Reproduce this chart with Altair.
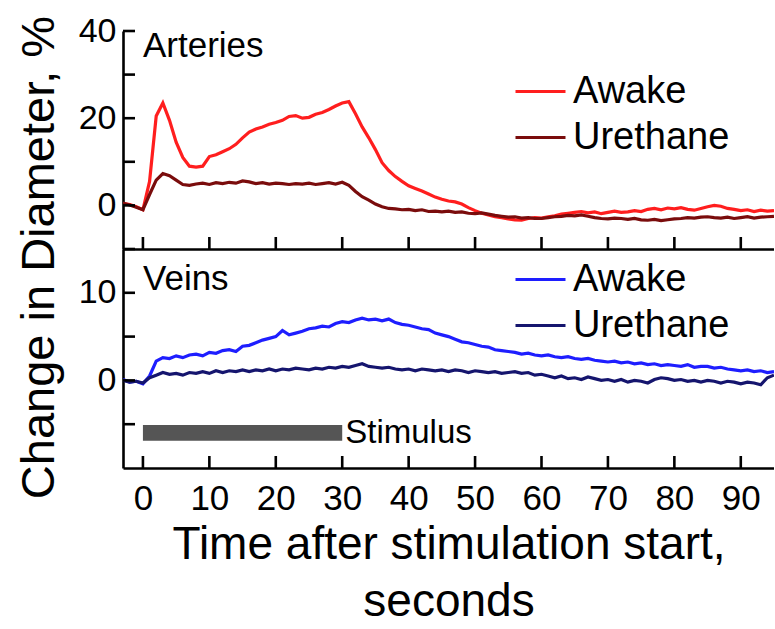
import altair as alt
import pandas as pd

FONT = "Liberation Sans"

# ---------------- data ----------------
t = list(range(-3, 96))

art_awake = [0.5, 0.2, -0.3,
             -1.0, 5.5, 20.5, 23.5, 19.5, 14.5, 11.0, 9.0, 8.8, 9.0,
             11.2, 11.6, 12.3, 13.0, 14.0, 15.5, 16.8, 17.5, 18.0, 18.6,
             19.0, 19.5, 20.4, 20.6, 20.0, 20.2, 20.9, 21.3, 22.0, 22.8,
             23.5, 23.8, 21.0, 18.0, 15.5, 12.8, 9.8, 8.0, 6.6, 5.5,
             4.5, 3.9, 3.3, 2.6, 1.9, 1.4, 1.0, 0.8, 0.3, -0.5,
             -1.2, -1.8, -2.2, -2.6, -2.8, -3.1, -3.3, -3.4, -3.0, -2.8,
             -2.9, -2.6, -2.4, -2.0, -1.8, -1.6, -1.4, -1.7, -1.5, -1.9,
             -1.6, -1.3, -1.6, -1.5, -1.2, -1.4, -0.9, -0.7, -1.0, -0.6,
             -0.8, -0.5, -0.9, -1.1, -0.7, -0.3, 0.0, -0.2, -0.7, -0.9,
             -1.2, -1.0, -1.4, -1.1, -1.3, -1.2]

art_ureth = [0.5, 0.1, -0.4,
             -1.0, 2.5, 5.8, 7.3, 6.8, 5.8, 4.8, 4.6, 4.9, 5.1,
             4.8, 5.2, 5.0, 5.3, 5.1, 5.6, 5.4, 5.0, 5.2, 4.9,
             5.1, 5.0, 4.8, 5.0, 4.9, 5.1, 4.8, 5.0, 5.2, 4.9,
             5.3, 4.6, 3.2, 2.0, 1.2, 0.3, -0.3, -0.7, -0.8, -1.0,
             -0.9, -1.2, -1.0, -1.4, -1.3, -1.5, -1.3, -1.6, -1.5, -1.8,
             -1.9, -1.7, -2.0, -2.3, -2.5, -2.7, -2.6, -2.9, -2.8, -3.0,
             -3.0, -2.8, -2.6, -2.5, -2.3, -2.4, -2.2, -2.5, -2.8, -3.0,
             -3.1, -2.9, -3.0, -3.2, -3.0, -3.3, -3.4, -3.2, -3.5, -3.3,
             -3.1, -3.0, -2.8, -2.9, -2.7, -2.6, -2.8, -2.9, -2.7, -3.0,
             -2.8, -2.6, -2.9, -2.7, -2.6, -2.5]

vein_awake = [0.1, -0.2, -0.1,
              -0.4, 0.5, 2.2, 2.6, 2.5, 2.8, 2.6, 2.9, 3.0, 2.8,
              3.2, 3.1, 3.4, 3.5, 3.3, 3.9, 4.0, 4.3, 4.6, 4.8,
              5.0, 5.7, 5.2, 5.4, 5.6, 5.9, 6.0, 6.2, 6.1, 6.5,
              6.7, 6.6, 6.9, 7.1, 6.9, 7.0, 6.8, 7.0, 6.6, 6.4,
              6.3, 6.1, 5.9, 5.8, 5.4, 5.2, 5.0, 4.7, 4.4, 4.3,
              4.1, 3.9, 3.8, 3.5, 3.4, 3.3, 3.2, 3.0, 3.1, 2.9,
              2.8, 2.9, 2.7, 2.6, 2.7, 2.5, 2.4, 2.5, 2.3, 2.2,
              2.1, 2.2, 2.0, 2.1, 1.9, 2.0, 1.8, 1.9, 1.7, 1.8,
              1.7, 1.6, 1.8, 1.5, 1.6, 1.6, 1.4, 1.5, 1.3, 1.2,
              1.1, 1.2, 1.0, 1.1, 0.9, 1.0]

vein_ureth = [0.0, -0.2, -0.1,
              -0.3, 0.3, 0.6, 0.9, 0.7, 0.8, 0.6, 0.9, 0.8, 1.0,
              0.8, 1.1, 0.9, 1.1, 1.0, 1.2, 1.0, 1.2, 1.1, 1.3,
              1.1, 1.3, 1.2, 1.4, 1.3, 1.2, 1.4, 1.3, 1.5, 1.4,
              1.6, 1.5, 1.7, 1.9, 1.6, 1.5, 1.4, 1.5, 1.3, 1.2,
              1.3, 1.1, 1.3, 1.2, 1.1, 1.2, 1.0, 1.2, 1.1, 0.9,
              1.1, 1.0, 0.9, 1.0, 0.8, 0.9, 1.0, 0.8, 0.9, 0.6,
              0.7, 0.5, 0.3, 0.5, 0.2, 0.3, 0.1, 0.4, 0.2, 0.0,
              0.1, -0.1, 0.1, -0.2, 0.0, -0.1, -0.3, 0.1, 0.3, 0.2,
              0.0, 0.1, -0.1, 0.0, -0.2, 0.0, -0.1, -0.3, -0.1, -0.2,
              -0.4, -0.2, -0.3, -0.5, 0.3, 0.6]

series_names = ["Awake", "Urethane"]
art_colors = ["#ff1e1e", "#7a0c0c"]
vein_colors = ["#1e1eff", "#15156e"]

x_ticks = [0, 10, 20, 30, 40, 50, 60, 70, 80, 90]
art_labels = [0, 20, 40]
art_ticks = [-10, 0, 10, 20, 30, 40]
vein_labels = [0, 10]
vein_ticks = [-5, 0, 5, 10]

stim_start, stim_end, stim_lo, stim_hi = [0], [30], [-6.9], [-5.1]


def frame(a, b):
    rows = [{"t": ti, "v": vi, "s": series_names[0]} for ti, vi in zip(t, a)]
    rows += [{"t": ti, "v": vi, "s": series_names[1]} for ti, vi in zip(t, b)]
    return pd.DataFrame(rows)


df_art = frame(art_awake, art_ureth)
df_vein = frame(vein_awake, vein_ureth)

W = 651
H1 = 218
H2 = 219
TICK_LEN = 12
xs = alt.Scale(domain=[-3, 95], nice=False, zero=False)
ys_art = alt.Scale(domain=[-10, 40], nice=False, zero=False)
ys_vein = alt.Scale(domain=[-10, 15], nice=False, zero=False)


def panel(df, ys, colors, y_labels, y_ticks, H, name, name_y, legend_y, row_pad,
          bottom=False, y_title=False):
    x_axis = alt.Axis(orient="bottom", domain=True, domainColor="black", domainWidth=2.6,
                      ticks=False, grid=False,
                      labels=bottom, values=x_ticks, labelFontSize=35, labelPadding=13,
                      labelFont=FONT, labelColor="black",
                      title=(["Time after stimulation start,", "seconds"] if bottom else None),
                      titleFontSize=46, titleFont=FONT, titleFontWeight="normal",
                      titleColor="black", titleLineHeight=57, titlePadding=6)
    y_kw = dict(orient="left", domain=True, domainColor="black", domainWidth=2.6,
                ticks=False, grid=False, values=y_labels, labelFontSize=34,
                labelPadding=7, labelFont=FONT, labelColor="black")
    if y_title:
        y_kw.update(title="Change in Diameter, %", titleFontSize=47, titleFont=FONT,
                    titleFontWeight="normal", titleColor="black", titleX=-70,
                    titleY=226, titleBaseline="alphabetic", titleAngle=270)
    else:
        y_kw.update(title=None)
    y_axis = alt.Axis(**y_kw)

    legend = alt.Legend(orient="none", legendX=391, legendY=legend_y, title=None,
                        symbolType="stroke", symbolSize=2500, symbolStrokeWidth=3,
                        labelFontSize=38, labelFont=FONT, labelColor="black",
                        labelOffset=6, rowPadding=row_pad, padding=0)

    lines = alt.Chart(df).mark_line(strokeWidth=3.2, clip=True).encode(
        x=alt.X("t:Q", scale=xs, axis=x_axis),
        y=alt.Y("v:Q", scale=ys, axis=y_axis),
        color=alt.Color("s:N", scale=alt.Scale(domain=series_names, range=colors),
                        legend=legend),
    )

    # inward-pointing tick marks
    xt = alt.Chart(pd.DataFrame({"tx": x_ticks})).mark_rule(
        color="black", strokeWidth=2.6).encode(
        x=alt.X("tx:Q", scale=xs, axis=None),
        y=alt.value(H), y2=alt.value(H - TICK_LEN))
    yt = alt.Chart(pd.DataFrame({"ty": y_ticks})).mark_rule(
        color="black", strokeWidth=2.6).encode(
        y=alt.Y("ty:Q", scale=ys, axis=None),
        x=alt.value(0), x2=alt.value(TICK_LEN))

    label = alt.Chart(pd.DataFrame({"label": [name]})).mark_text(
        align="left", baseline="middle", fontSize=35, font=FONT, color="black"
    ).encode(text="label:N", x=alt.value(20), y=alt.value(name_y))

    layers = [lines, xt, yt, label]
    if bottom:
        stim = pd.DataFrame({"x0": stim_start, "x1": stim_end, "y0": stim_lo, "y1": stim_hi,
                             "lab": ["Stimulus"], "ym": [(stim_lo[0] + stim_hi[0]) / 2]})
        bar = alt.Chart(stim).mark_rect(color="#555555").encode(
            x=alt.X("x0:Q", scale=xs, axis=None), x2="x1:Q",
            y=alt.Y("y0:Q", scale=ys, axis=None), y2="y1:Q")
        txt = alt.Chart(stim).mark_text(align="left", baseline="middle", dx=3,
                                        fontSize=33, font=FONT, color="black").encode(
            x=alt.X("x1:Q", scale=xs, axis=None), y=alt.Y("ym:Q", scale=ys, axis=None),
            text="lab:N")
        layers += [bar, txt]

    return alt.layer(*layers).resolve_axis(x="independent", y="independent").properties(
        width=W, height=H)


top = panel(df_art, ys_art, art_colors, art_labels, art_ticks, H1, "Arteries", 15, 34, 0,
            bottom=False, y_title=True)
bot = panel(df_vein, ys_vein, vein_colors, vein_labels, vein_ticks, H2, "Veins", 30, 4, -4,
            bottom=True)

chart = alt.vconcat(top, bot, spacing=0, bounds="flush").resolve_scale(
    color="independent").properties(
    padding={"left": 14, "top": 14, "right": 0, "bottom": 0}
).configure_view(stroke=None).configure_axis(grid=False)

chart.save("out.html", embed_options={"renderer": "svg", "actions": False})
